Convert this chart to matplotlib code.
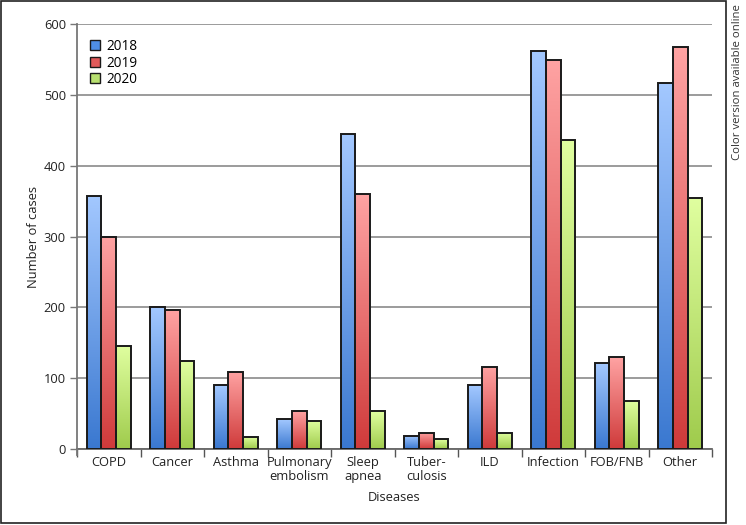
import numpy as np
import matplotlib
matplotlib.use("Agg")
import matplotlib.pyplot as plt
from matplotlib.colors import LinearSegmentedColormap
from matplotlib.patches import Rectangle
from matplotlib.lines import Line2D

plt.rcParams['font.family'] = ['Open Sans', 'DejaVu Sans']

categories = ["COPD", "Cancer", "Asthma", "Pulmonary\nembolism", "Sleep\napnea",
              "Tuber-\nculosis", "ILD", "Infection", "FOB/FNB", "Other"]
years = ["2018", "2019", "2020"]
v2018 = [358, 200, 90, 42, 445, 19, 90, 562, 121, 517]
v2019 = [300, 197, 109, 53, 361, 23, 116, 549, 130, 568]
v2020 = [146, 124, 17, 40, 53, 14, 23, 436, 68, 355]
series = [v2018, v2019, v2020]
yticks = [0, 100, 200, 300, 400, 500, 600]

grads = [("#a3c8ff", "#3a78d0"), ("#ffa3a3", "#cf3a3a"), ("#e0ffa0", "#9fcb4c")]
legend_colors = ["#4f8ee6", "#e05a5a", "#b8e070"]

FS = 9.3

fig = plt.figure(figsize=(7.46, 5.25), dpi=100)
ax = fig.add_axes([77/746, 76/525, (712-77)/746, (449-24.4)/525])

n = len(categories)
x = np.arange(n)
bw = 0.232
offsets = [-bw, 0, bw]
grad_img = np.linspace(1, 0, 256).reshape(-1, 1)

ax.set_xlim(-0.5, n - 0.5)
ax.set_ylim(0, 600)

for s, vals in enumerate(series):
    top, bot = grads[s]
    cmap = LinearSegmentedColormap.from_list("g%d" % s, [bot, top])
    bars = ax.bar(x + offsets[s], vals, width=bw, facecolor="none",
                  edgecolor="#1a1a1a", linewidth=1.4, zorder=4)
    for b in bars:
        x0, y0 = b.get_x(), b.get_y()
        w, h = b.get_width(), b.get_height()
        im = ax.imshow(grad_img, cmap=cmap, extent=[x0, x0 + w, y0, y0 + h],
                       aspect="auto", origin="upper", zorder=3, interpolation="bilinear")
        im.set_clip_path(b)

ax.set_xlim(-0.5, n - 0.5)
ax.set_ylim(0, 600)

# grid
ax.set_yticks(yticks)
ax.yaxis.grid(True, color="#8a8a8a", linewidth=1.2, zorder=1)
ax.set_axisbelow(True)
ax.tick_params(axis="y", length=5, width=1.0, color="#777777", labelsize=FS,
               labelcolor="#222222", pad=3)

# x ticks at boundaries
ax.set_xticks(np.arange(-0.5, n, 1.0), minor=False)
ax.set_xticklabels([])
ax.set_xticks(x, minor=True)
ax.set_xticklabels(categories, minor=True, fontsize=FS, color="#222222", linespacing=1.1)
ax.tick_params(axis="x", which="minor", length=0, pad=5)
ax.tick_params(axis="x", which="major", length=6, width=1.0, color="#555555")

for sp in ["top", "right"]:
    ax.spines[sp].set_visible(False)
ax.spines["left"].set_color("#777777")
ax.spines["left"].set_linewidth(1.3)
ax.spines["bottom"].set_color("#666666")
ax.spines["bottom"].set_linewidth(1.3)
ax.add_line(Line2D([-0.5, -0.5], [0, -9], color="#777777", linewidth=1.3,
                   clip_on=False, zorder=5))

ax.set_ylabel("Number of cases", fontsize=FS, color="#222222", labelpad=3)
ax.set_xlabel("Diseases", fontsize=FS, color="#222222", labelpad=6)

# legend
handles = [Rectangle((0, 0), 1, 1, facecolor=c, edgecolor="#1a1a1a", linewidth=1.0)
           for c in legend_colors]
leg = ax.legend(handles, years, loc="upper left", bbox_to_anchor=(0.008, 0.985),
                frameon=False, fontsize=FS + 0.5, handlelength=0.75, handleheight=0.75,
                handletextpad=0.4, labelspacing=0.12, borderaxespad=0.2)

# frame and side note
fig.add_artist(Rectangle((1/746, 2/525), 725/746, 522/525, transform=fig.transFigure,
                         fill=False, edgecolor="#222222", linewidth=1.2))
fig.text(737/746, 1 - 4/525, "Color version available online", rotation=90,
         ha="center", va="top", fontsize=8.2, color="#333333")

fig.savefig("out.png", dpi=100)
